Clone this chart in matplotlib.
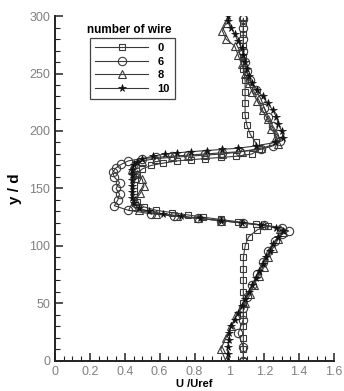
import numpy as np
import matplotlib
matplotlib.use("Agg")
import matplotlib.pyplot as plt
from matplotlib.ticker import MultipleLocator, FuncFormatter

plt.rcParams['font.family'] = ['Liberation Sans', 'DejaVu Sans']

# number of wire = 0 (squares)
y0 = [0, 10, 20, 30, 40, 50, 60, 70, 80, 90, 100, 108, 114, 117, 119, 121, 123, 125, 127, 129,
      131, 134, 138, 143, 148, 153, 158, 163, 167, 170, 172, 174, 175, 176, 177, 178, 180, 184,
      190, 197, 205, 214, 224, 234, 244, 254, 264, 274, 284, 294, 298]
x0 = [1.08, 1.08, 1.08, 1.08, 1.08, 1.08, 1.08, 1.08, 1.08, 1.08, 1.09, 1.11, 1.16, 1.22, 1.15,
      1.05, 0.95, 0.85, 0.76, 0.67, 0.58, 0.51, 0.47, 0.45, 0.45, 0.45, 0.46, 0.47, 0.50, 0.55,
      0.62, 0.70, 0.78, 0.86, 0.95, 1.04, 1.13, 1.17, 1.15, 1.12, 1.10, 1.09, 1.09, 1.09, 1.09,
      1.08, 1.08, 1.08, 1.08, 1.08, 1.08]

# number of wire = 6 (circles)
y6 = [0, 12, 24, 36, 46, 56, 66, 76, 86, 96, 104, 110, 113, 116, 118, 120, 122, 124, 126, 128,
      131, 135, 140, 145, 150, 155, 160, 164, 168, 171, 174, 176, 177, 178, 179, 180, 181, 182,
      184, 187, 191, 197, 204, 212, 220, 228, 236, 244, 252, 260, 270, 280, 290, 297]
x6 = [1.08, 1.08, 1.05, 1.08, 1.08, 1.10, 1.13, 1.16, 1.19, 1.22, 1.26, 1.30, 1.34, 1.30, 1.20,
      1.08, 0.95, 0.82, 0.68, 0.55, 0.42, 0.34, 0.36, 0.37, 0.35, 0.37, 0.34, 0.33, 0.35, 0.38,
      0.42, 0.50, 0.58, 0.67, 0.76, 0.86, 0.96, 1.06, 1.18, 1.25, 1.29, 1.28, 1.25, 1.22, 1.20,
      1.18, 1.15, 1.12, 1.10, 1.09, 1.08, 1.08, 1.08, 1.08]

# number of wire = 8 (triangles)
y8 = [0, 10, 20, 30, 40, 50, 58, 66, 74, 82, 90, 98, 106, 112, 115, 118, 120, 122, 124, 126,
      128, 131, 135, 140, 146, 152, 158, 163, 167, 171, 174, 176, 177, 178, 179, 180, 182, 185,
      189, 195, 202, 210, 218, 226, 234, 242, 250, 258, 266, 274, 280, 287, 294]
x8 = [0.98, 0.95, 0.98, 1.01, 1.04, 1.09, 1.12, 1.14, 1.17, 1.20, 1.22, 1.25, 1.28, 1.31, 1.29,
      1.20, 1.08, 0.95, 0.82, 0.70, 0.58, 0.48, 0.44, 0.46, 0.49, 0.51, 0.50, 0.47, 0.44, 0.45,
      0.50, 0.58, 0.67, 0.76, 0.86, 0.96, 1.07, 1.18, 1.28, 1.27, 1.24, 1.22, 1.19, 1.16, 1.13,
      1.11, 1.09, 1.07, 1.05, 1.03, 0.98, 0.96, 0.98]

# number of wire = 10 (stars)
y10 = [0, 6, 12, 18, 24, 30, 36, 42, 48, 54, 60, 66, 72, 78, 84, 90, 96, 102, 108, 113, 116,
       118, 120, 122, 124, 126, 128, 130, 133, 137, 142, 147, 152, 157, 162, 166, 170, 173, 176,
       178, 180, 181, 182, 183, 184, 185, 187, 190, 194, 200, 206, 212, 218, 224, 230, 236, 242,
       248, 254, 260, 266, 272, 278, 284, 290, 296, 300]
x10 = [0.99, 0.99, 0.99, 1.00, 1.00, 1.01, 1.03, 1.05, 1.07, 1.09, 1.11, 1.13, 1.15, 1.17, 1.19,
       1.21, 1.23, 1.25, 1.28, 1.31, 1.27, 1.18, 1.07, 0.95, 0.83, 0.72, 0.62, 0.54, 0.48, 0.45,
       0.44, 0.44, 0.44, 0.44, 0.44, 0.44, 0.45, 0.47, 0.50, 0.56, 0.63, 0.70, 0.78, 0.87, 0.96,
       1.05, 1.15, 1.26, 1.31, 1.30, 1.28, 1.27, 1.25, 1.22, 1.19, 1.16, 1.13, 1.11, 1.10, 1.09,
       1.08, 1.07, 1.05, 1.03, 1.01, 0.99, 0.99]

labels = ["0", "6", "8", "10"]

fig = plt.figure(figsize=(3.44, 3.91), dpi=100)
ax = fig.add_axes([0.160, 0.077, 0.811, 0.882])

c = "#3a3a3a"
ax.plot(x0, y0, color=c, lw=0.8, marker="s", ms=5, mfc="none", mec=c, mew=0.8, label=labels[0])
ax.plot(x6, y6, color=c, lw=0.8, marker="o", ms=6, mfc="none", mec=c, mew=0.8, label=labels[1])
ax.plot(x8, y8, color=c, lw=0.8, marker="^", ms=5.5, mfc="none", mec=c, mew=0.8, label=labels[2])
ax.plot(x10, y10, color=c, lw=0.8, marker="*", ms=5.5, mfc="#111111", mec="#111111", mew=0.5,
        label=labels[3])

ax.set_xlim(0, 1.6)
ax.set_ylim(0, 300)
ax.xaxis.set_major_locator(MultipleLocator(0.2))
ax.xaxis.set_minor_locator(MultipleLocator(0.05))
ax.yaxis.set_major_locator(MultipleLocator(50))
ax.yaxis.set_minor_locator(MultipleLocator(10))
ax.xaxis.set_major_formatter(FuncFormatter(lambda v, p: "%g" % round(v, 2)))
ax.yaxis.set_major_formatter(FuncFormatter(lambda v, p: "%g" % v))

for s in ["top", "right"]:
    ax.spines[s].set_visible(False)
for s in ["left", "bottom"]:
    ax.spines[s].set_linewidth(1.4)
    ax.spines[s].set_color("#222222")
ax.tick_params(which="both", direction="in", colors="#222222", labelcolor="#808080",
               labelsize=9)
ax.tick_params(which="major", length=6, width=1.1)
ax.tick_params(which="minor", length=3.5, width=0.8)

ax.set_xlabel("U /Uref", fontsize=8, fontweight="bold", labelpad=1)
ax.set_ylabel("y / d", fontsize=11, fontweight="bold", labelpad=5)

leg = ax.legend(loc="upper left", bbox_to_anchor=(0.1254, 0.936), borderaxespad=0,
                fontsize=8, handlelength=4.8, handletextpad=0.8, labelspacing=0.32,
                borderpad=0.45, fancybox=False, edgecolor="#444444", framealpha=1)
leg.get_frame().set_linewidth(0.9)
for t in leg.get_texts():
    t.set_fontweight("bold")
ax.text(0.116, 0.951, "number of wire", transform=ax.transAxes, fontsize=8.5,
        fontweight="bold", ha="left", va="baseline")

fig.savefig("out.png", dpi=100)
